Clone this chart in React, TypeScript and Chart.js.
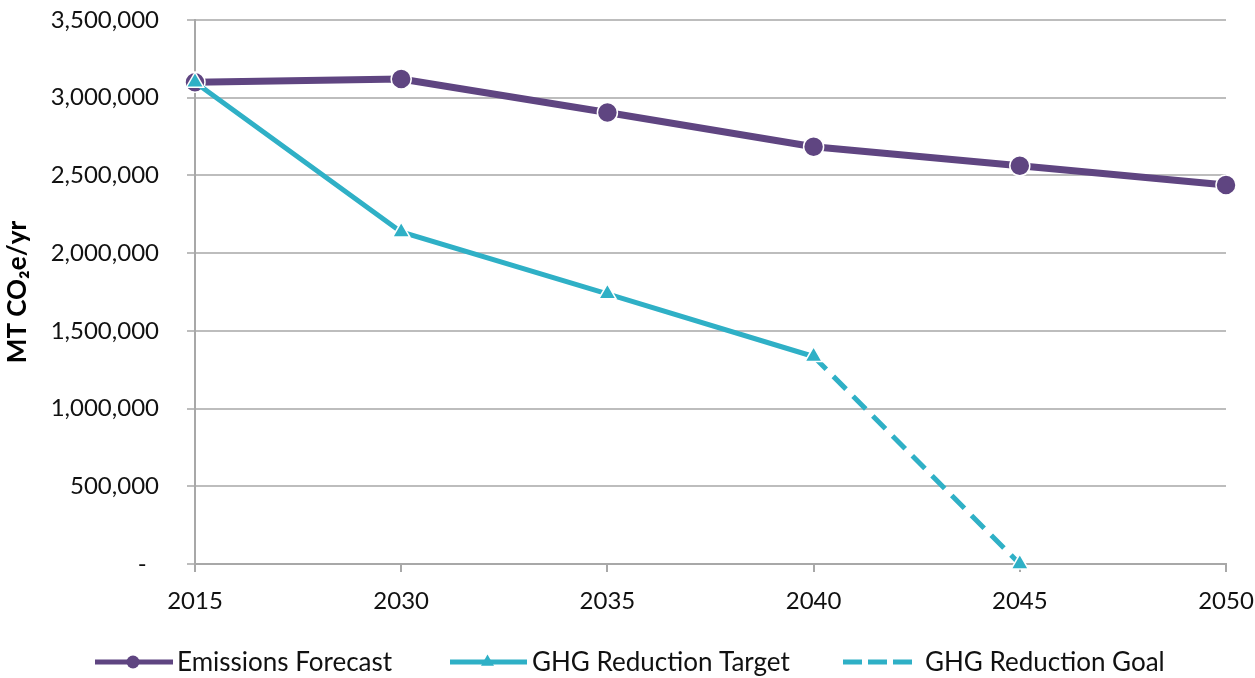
import React, { useEffect, useRef } from 'react';
import { Chart, registerables } from 'chart.js';

Chart.register(...registerables);

const years = ['2015', '2030', '2035', '2040', '2045', '2050'];
const emissionsForecast = [3100000, 3120000, 2905000, 2685000, 2562000, 2438000];
const reductionTarget = [3100000, 2136000, 1738000, 1335000, null, null];
const reductionGoal = [null, null, null, 1335000, 0, null];
const seriesNames = ['Emissions Forecast', 'GHG Reduction Target', 'GHG Reduction Goal'];
const yMin = 0;
const yMax = 3500000;
const yStep = 500000;
const yTitle = 'MT CO\u2082e/yr';

const PURPLE = '#5f4581';
const TEAL = '#2fb0c6';
const GRID = '#bdbdbd';
const AXIS = '#a8a8a8';
const TEXT = '#111111';
const FONT = 'Lato';

const legendPlugin = {
  id: 'bottomLegend',
  afterDraw(chart: any) {
    const ctx = chart.ctx as CanvasRenderingContext2D;
    const y = 662;
    const lineStart = [95, 450, 843];
    const lineEnd = [173, 527, 912];
    const textX = [177, 532, 925];
    ctx.save();
    chart.data.datasets.forEach((ds: any, i: number) => {
      const x0 = lineStart[i];
      const x1 = lineEnd[i];
      ctx.strokeStyle = ds.borderColor;
      ctx.lineWidth = 5;
      ctx.lineCap = 'butt';
      ctx.setLineDash(ds.borderDash ? [19, 6] : []);
      ctx.beginPath();
      ctx.moveTo(x0, y);
      ctx.lineTo(x1, y);
      ctx.stroke();
      ctx.setLineDash([]);
      const cx = (x0 + x1) / 2 - 1;
      if (!ds.borderDash) {
        ctx.fillStyle = ds.borderColor;
        ctx.beginPath();
        if (ds.pointStyle === 'circle') {
          ctx.arc(cx, y, 6.5, 0, Math.PI * 2);
        } else {
          const r = 7.5;
          ctx.moveTo(cx, y - r);
          ctx.lineTo(cx + r * 0.866, y + r * 0.5);
          ctx.lineTo(cx - r * 0.866, y + r * 0.5);
          ctx.closePath();
        }
        ctx.fill();
      }
      ctx.fillStyle = TEXT;
      ctx.font = `26px ${FONT}`;
      ctx.textBaseline = 'middle';
      ctx.textAlign = 'left';
      ctx.fillText(ds.label, textX[i], y + 1);
    });
    ctx.restore();
  },
};

export default function App() {
  const ref = useRef<HTMLCanvasElement>(null);
  useEffect(() => {
    document.body.style.margin = '0';
    const chart = new Chart(ref.current as HTMLCanvasElement, {
      type: 'line',
      data: {
        labels: years,
        datasets: [
          {
            label: seriesNames[0],
            data: emissionsForecast,
            borderColor: PURPLE,
            backgroundColor: PURPLE,
            borderWidth: 7,
            pointStyle: 'circle',
            pointRadius: 10,
            pointBackgroundColor: PURPLE,
            pointBorderColor: '#ffffff',
            pointBorderWidth: 1.5,
            order: 3,
            clip: false,
          } as any,
          {
            label: seriesNames[1],
            data: reductionTarget,
            borderColor: TEAL,
            backgroundColor: TEAL,
            borderWidth: 5,
            pointStyle: 'triangle',
            pointRadius: 10,
            pointBackgroundColor: TEAL,
            pointBorderColor: '#ffffff',
            pointBorderWidth: 1.5,
            order: 1,
            clip: false,
          } as any,
          {
            label: seriesNames[2],
            data: reductionGoal,
            borderColor: TEAL,
            backgroundColor: TEAL,
            borderWidth: 5,
            borderDash: [18, 10],
            pointStyle: 'triangle',
            pointRadius: [0, 0, 0, 0, 10, 0],
            pointBackgroundColor: TEAL,
            pointBorderColor: '#ffffff',
            pointBorderWidth: 1.5,
            order: 2,
            clip: false,
          } as any,
        ],
      },
      options: {
        responsive: false,
        animation: false,
        layout: { padding: { top: 20, right: 29, bottom: 62, left: 0 } },
        plugins: {
          legend: { display: false },
          tooltip: { enabled: false },
        },
        scales: {
          x: {
            type: 'category',
            offset: false,
            grid: {
              display: true,
              drawOnChartArea: false,
              drawTicks: true,
              tickLength: 8,
              color: AXIS,
              lineWidth: 2,
            },
            border: { display: true, color: AXIS, width: 2 },
            ticks: {
              font: { family: FONT, size: 24 },
              color: TEXT,
              padding: 15,
              maxRotation: 0,
              autoSkip: false,
            },
            afterFit: (s: any) => {
              s.height = 52;
              s.paddingLeft = 0;
              s.paddingRight = 0;
            },
          },
          y: {
            min: yMin,
            max: yMax,
            ticks: {
              stepSize: yStep,
              font: { family: FONT, size: 24 },
              color: TEXT,
              padding: 28,
              callback: (v: any) => (Number(v) === 0 ? '-  ' : Number(v).toLocaleString('en-US')),
            },
            grid: { color: GRID, lineWidth: 2, tickLength: 8 },
            border: { display: true, color: AXIS, width: 2 },
            title: {
              display: true,
              text: yTitle,
              font: { family: FONT, size: 26, weight: 'bold' },
              color: '#000',
              padding: { top: 2, bottom: 4 },
            },
            afterFit: (s: any) => {
              s.width = 195;
              s.paddingTop = 0;
              s.paddingBottom = 0;
            },
          },
        },
      } as any,
      plugins: [legendPlugin],
    });
    return () => chart.destroy();
  }, []);
  return (
    <div style={{ width: 1255, height: 678, position: 'relative' }}>
      <canvas ref={ref} width={1255} height={678} style={{ display: 'block' }} />
    </div>
  );
}
